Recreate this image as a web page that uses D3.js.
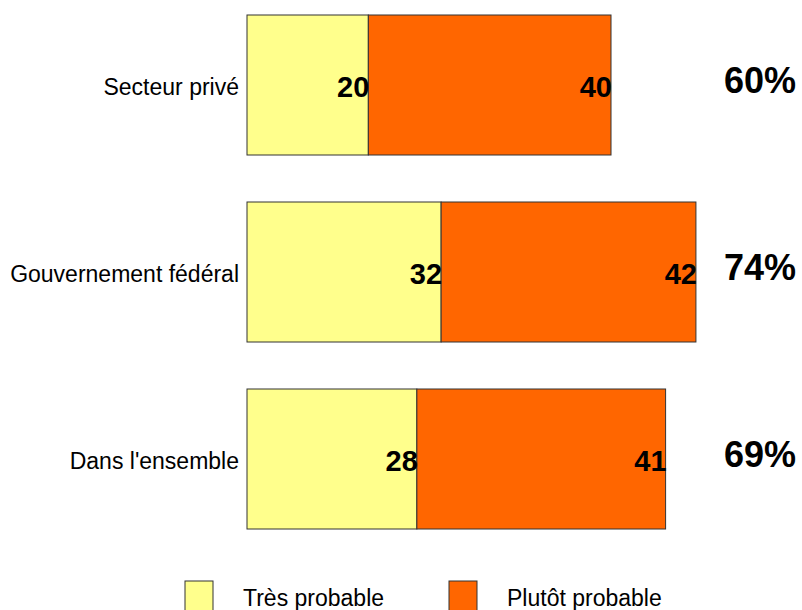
<!DOCTYPE html>
<html>
<head>
<meta charset="utf-8">
<script src="https://cdn.jsdelivr.net/npm/d3@7"></script>
<style>
  body { margin: 0; background: #fff; }
  svg text { font-family: "Liberation Sans", Arial, sans-serif; }
</style>
</head>
<body>
<svg width="802" height="610"></svg>
<script>
var categories = ["Secteur privé", "Gouvernement fédéral", "Dans l'ensemble"];
var tresProbable = [20, 32, 28];
var plutotProbable = [40, 42, 41];
var totals = ["60%", "74%", "69%"];
var seriesNames = ["Très probable", "Plutôt probable"];
var colors = ["#FFFF8C", "#FF6600"];

var svg = d3.select("svg");

var x = d3.scaleLinear().domain([0, 90]).range([247, 793]);
var y = d3.scaleBand().domain(categories).range([15, 529]).paddingInner(47 / 187).paddingOuter(0);

var rows = categories.map(function(c, i) {
  return { cat: c, a: tresProbable[i], b: plutotProbable[i], total: totals[i] };
});

var g = svg.selectAll("g.row")
    .data(rows)
    .enter()
  .append("g")
    .attr("class", "row");

g.append("rect")
    .attr("x", x(0))
    .attr("y", function(d) { return y(d.cat); })
    .attr("width", function(d) { return x(d.a) - x(0); })
    .attr("height", y.bandwidth())
    .style("fill", colors[0])
    .style("stroke", "#333")
    .style("stroke-width", 1);

g.append("rect")
    .attr("x", function(d) { return x(d.a); })
    .attr("y", function(d) { return y(d.cat); })
    .attr("width", function(d) { return x(d.a + d.b) - x(d.a); })
    .attr("height", y.bandwidth())
    .style("fill", colors[1])
    .style("stroke", "#333")
    .style("stroke-width", 1);

// segment values
g.append("text")
    .attr("x", function(d) { return x(d.a) + 1; })
    .attr("y", function(d) { return y(d.cat) + y.bandwidth() / 2 + 12; })
    .attr("text-anchor", "end")
    .style("font-size", "29px")
    .style("font-weight", "bold")
    .text(function(d) { return d.a; });

g.append("text")
    .attr("x", function(d) { return x(d.a + d.b) + 1; })
    .attr("y", function(d) { return y(d.cat) + y.bandwidth() / 2 + 12; })
    .attr("text-anchor", "end")
    .style("font-size", "29px")
    .style("font-weight", "bold")
    .text(function(d) { return d.b; });

// category labels
g.append("text")
    .attr("x", 239)
    .attr("y", function(d) { return y(d.cat) + y.bandwidth() / 2 + 10; })
    .attr("text-anchor", "end")
    .style("font-size", "23px")
    .text(function(d) { return d.cat; });

// totals
g.append("text")
    .attr("x", 760)
    .attr("y", function(d) { return y(d.cat) + y.bandwidth() / 2 + 8; })
    .attr("text-anchor", "middle")
    .style("font-size", "36px")
    .style("font-weight", "bold")
    .text(function(d) { return d.total; });

// legend
var legend = svg.selectAll("g.legend")
    .data(seriesNames)
    .enter()
  .append("g")
    .attr("class", "legend")
    .attr("transform", function(d, i) { return "translate(" + (185 + i * 264) + ",581)"; });

legend.append("rect")
    .attr("width", 28)
    .attr("height", 34)
    .style("fill", function(d, i) { return colors[i]; })
    .style("stroke", "#333")
    .style("stroke-width", 1);

legend.append("text")
    .attr("x", 58)
    .attr("y", 25)
    .style("font-size", "23px")
    .text(function(d) { return d; });
</script>
</body>
</html>
